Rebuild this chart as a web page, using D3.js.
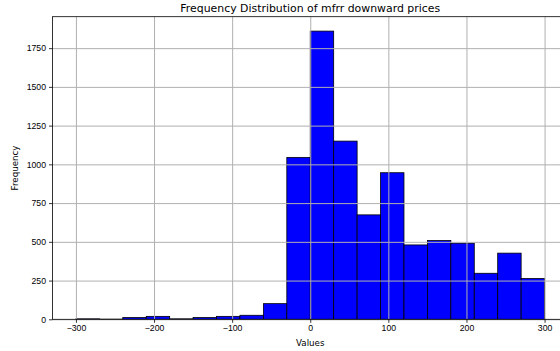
<!DOCTYPE html>
<html>
<head>
<meta charset="utf-8">
<script src="https://cdn.jsdelivr.net/npm/d3@7.9.0/dist/d3.min.js"></script>
<style>
  body { margin: 0; background: #fff; }
  svg { display: block; font-family: "DejaVu Sans", sans-serif; }
  .grid line { stroke: #b0b0b0; stroke-width: 1; }
  .grid path { display: none; }
  .axis text { font-size: 8.7px; fill: #000; }
  .axis line, .axis path { stroke: #000; stroke-width: 0.8; }
</style>
</head>
<body>
<svg width="560" height="351"></svg>
<script>
// histogram bin edges (values) and counts per bin
const binEdges = [-300, -270, -240, -210, -180, -150, -120, -90, -60, -30, 0,
  30, 60, 90, 120, 150, 180, 210, 240, 270, 300];
const counts = [3, 1, 11, 19, 3, 11, 19, 26, 101, 1045, 1860,
  1150, 674, 946, 480, 508, 491, 297, 427, 263];
const xTicks = [-300, -200, -100, 0, 100, 200, 300];
const yTicks = [0, 250, 500, 750, 1000, 1250, 1500, 1750];

const bins = counts.map((c, i) => ({ x0: binEdges[i], x1: binEdges[i + 1], count: c }));

const svg = d3.select('svg');
const plotLeft = 52.5, plotRight = 568, plotTop = 16.7, plotBottom = 319.3;

// matplotlib-like 5% margins
const xMin = binEdges[0], xMax = binEdges[binEdges.length - 1];
const xPad = (xMax - xMin) * 0.05;
const x = d3.scaleLinear().domain([xMin - xPad, xMax + xPad]).range([plotLeft, plotRight]);
const y = d3.scaleLinear().domain([0, d3.max(counts) * 1.05]).range([plotBottom, plotTop]);

// bars
svg.append('g')
  .selectAll('rect')
  .data(bins)
  .join('rect')
  .attr('x', d => x(d.x0))
  .attr('y', d => y(d.count))
  .attr('width', d => x(d.x1) - x(d.x0))
  .attr('height', d => y(0) - y(d.count))
  .attr('fill', '#0000ff')
  .attr('stroke', '#000')
  .attr('stroke-width', 0.8);

// grid on top of the bars
svg.append('g')
  .attr('class', 'grid')
  .attr('transform', `translate(0,${plotBottom})`)
  .call(d3.axisBottom(x).tickValues(xTicks).tickSize(-(plotBottom - plotTop)).tickFormat(''));
svg.append('g')
  .attr('class', 'grid')
  .attr('transform', `translate(${plotLeft},0)`)
  .call(d3.axisLeft(y).tickValues(yTicks).tickSize(-(plotRight - plotLeft)).tickFormat(''));

// axes frame
svg.append('rect')
  .attr('x', plotLeft).attr('y', plotTop)
  .attr('width', plotRight - plotLeft).attr('height', plotBottom - plotTop)
  .attr('fill', 'none').attr('stroke', '#000').attr('stroke-width', 0.8);

svg.append('g')
  .attr('class', 'axis')
  .attr('transform', `translate(0,${plotBottom})`)
  .call(d3.axisBottom(x).tickValues(xTicks).tickSize(3.5).tickPadding(2.5).tickSizeOuter(0));

svg.append('g')
  .attr('class', 'axis')
  .attr('transform', `translate(${plotLeft},0)`)
  .call(d3.axisLeft(y).tickValues(yTicks).tickSize(3.5).tickPadding(3).tickSizeOuter(0).tickFormat(d3.format('d')));

svg.selectAll('.axis .domain').remove();

// labels
svg.append('text')
  .attr('x', (plotLeft + plotRight) / 2).attr('y', 12)
  .attr('text-anchor', 'middle')
  .attr('font-size', '10.9px')
  .text('Frequency Distribution of mfrr downward prices');

svg.append('text')
  .attr('x', (plotLeft + plotRight) / 2).attr('y', 345.5)
  .attr('text-anchor', 'middle')
  .attr('font-size', '8.7px')
  .text('Values');

svg.append('text')
  .attr('transform', `translate(17.5,${(plotTop + plotBottom) / 2}) rotate(-90)`)
  .attr('text-anchor', 'middle')
  .attr('font-size', '8.7px')
  .text('Frequency');
</script>
</body>
</html>
